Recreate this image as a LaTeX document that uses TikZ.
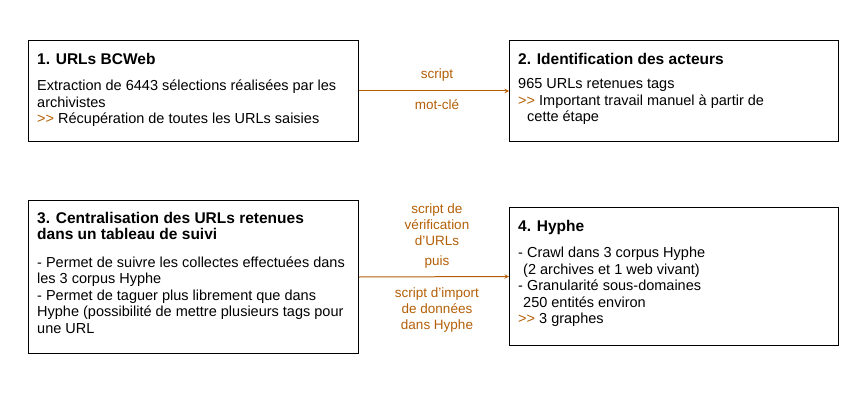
\documentclass[tikz,border=0pt]{standalone}
\usepackage{fontspec}
\setmainfont{Liberation Sans}
\definecolor{flowcol}{HTML}{B45F06}
\tikzset{
  stepbox/.style={draw=black, line width=1pt, anchor=north west, inner sep=0pt},
  steptext/.style={anchor=north west, inner sep=0pt, align=left,
    font=\fontsize{14.5}{16.5}\selectfont},
  flow/.style={draw=flowcol, line width=1pt, -stealth},
  flowlabel/.style={text=flowcol, inner sep=0pt, align=center, xshift=3pt,
    font=\fontsize{13.5}{16}\selectfont},
}
\newcommand{\steptitle}[1]{{\fontsize{15.5}{16.5}\selectfont\bfseries #1}}
\newcommand{\more}{\textcolor{flowcol}{>{}>}}
\begin{document}
\begin{tikzpicture}[x=1pt, y=-1pt]
    \useasboundingbox (0,0) rectangle (866,409);

    % boxes
    \node[stepbox, minimum width=330pt, minimum height=101pt] (box1) at (28,40) {};
    \node[stepbox, minimum width=329pt, minimum height=101pt] (box2) at (509,40) {};
    \node[stepbox, minimum width=330pt, minimum height=153pt] (box3) at (28,200) {};
    \node[stepbox, minimum width=329pt, minimum height=138pt] (box4) at (509,207) {};

    % box contents
    \node[steptext] (text1) at ([shift={(9pt,-13pt)}]box1.north west) {%
        \steptitle{1. URLs BCWeb}\\[10pt]
        Extraction de 6443 sélections réalisées par les\\
        archivistes\\
        \more{} Récupération de toutes les URLs saisies};
    \node[steptext] (text2) at ([shift={(9pt,-13pt)}]box2.north west) {%
        \steptitle{2. Identification des acteurs}\\[8pt]
        965 URLs retenues tags\\
        \more{} Important travail manuel à partir de\\
        \hspace*{9pt}cette étape};
    \node[steptext] (text3) at ([shift={(9pt,-12pt)}]box3.north west) {%
        \steptitle{3. Centralisation des URLs retenues}\\
        \steptitle{dans un tableau de suivi}\\[11pt]
        - Permet de suivre les collectes effectuées dans\\
        les 3 corpus Hyphe\\
        - Permet de taguer plus librement que dans\\
        Hyphe (possibilité de mettre plusieurs tags pour\\
        une URL};
    \node[steptext] (text4) at ([shift={(9pt,-13pt)}]box4.north west) {%
        \steptitle{4. Hyphe}\\[10pt]
        - Crawl dans 3 corpus Hyphe\\
        \hspace*{5pt}(2 archives et 1 web vivant)\\
        - Granularité sous-domaines\\
        \hspace*{5pt}250 entités environ\\
        \more{} 3 graphes};

    % connectors
    \draw[flow] (box1.east) -- (box2.west)
        node[flowlabel, midway, above=9pt] (lab1a) {script}
        node[flowlabel, midway, below=8pt] (lab1b) {mot-clé};
    \draw[flow] (box3.east) -- (box4.west)
        node[flowlabel, midway, above=8pt] (lab2a) {script de\\vérification\\d’URLs\\[4pt]puis}
        node[flowlabel, midway, below=10pt] (lab2b) {script d’import\\de données\\dans Hyphe};
\end{tikzpicture}
\end{document}
